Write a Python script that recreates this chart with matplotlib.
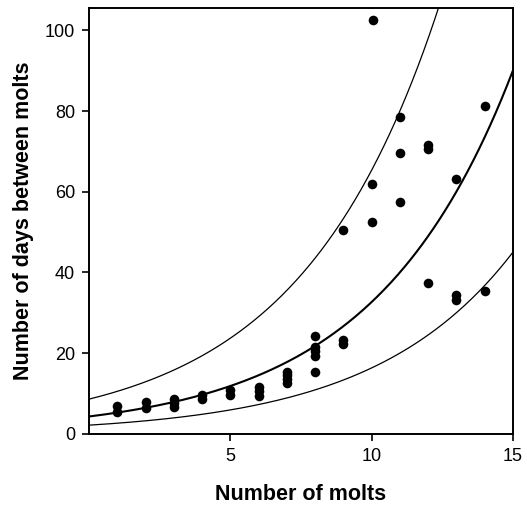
import matplotlib.pyplot as plt
import numpy as np

plt.rcParams['font.family'] = ['Liberation Sans', 'DejaVu Sans']

# Data #########################################################################
molt_number = [1, 1,
               2, 2,
               3, 3, 3,
               4, 4,
               5, 5,
               6, 6, 6,
               7, 7, 7, 7,
               8, 8, 8, 8, 8,
               9, 9, 9,
               10, 10, 10.05,
               11, 11, 11,
               12, 12, 12,
               13, 13, 13,
               14, 14]
days_between = [5.5, 6.8,
                6.5, 7.8,
                6.6, 7.6, 8.6,
                8.7, 9.6,
                9.5, 10.8,
                9.3, 10.5, 11.5,
                12.7, 13.7, 14.5, 15.3,
                15.2, 19.4, 20.5, 21.5, 24.3,
                22.3, 23.3, 50.5,
                52.5, 61.8, 102.5,
                57.5, 69.6, 78.6,
                37.5, 70.5, 71.5,
                33.2, 34.5, 63.2,
                35.3, 81.2]

# exponential fit and band (x2 / x0.5)
fit_a = 4.3
fit_b = 0.2027
band_factor = 2.0

x_ticks = [5, 10, 15]
y_ticks = [0, 20, 40, 60, 80, 100]

#Plot##########################################################################
fig = plt.figure(figsize=(5.27, 5.08), dpi=100)
ax = fig.add_axes([0.169, 0.146, 0.804, 0.838])

xs = np.linspace(0, 15, 300)
mid = fit_a * np.exp(fit_b * xs)
ax.plot(xs, mid, color="black", lw=1.5)
ax.plot(xs, mid * band_factor, color="black", lw=0.9)
ax.plot(xs, mid / band_factor, color="black", lw=0.9)

ax.scatter(molt_number, days_between, s=48, color="black", zorder=3, linewidths=0)

ax.set_xlim(0, 15)
ax.set_ylim(0, 105.5)
ax.set_xticks(x_ticks)
ax.set_yticks(y_ticks)
ax.tick_params(direction="out", length=5, width=1.2, labelsize=13, pad=5)
for s in ax.spines.values():
    s.set_linewidth(1.4)

ax.set_xlabel("Number of molts", fontsize=15.5, fontweight="bold", labelpad=14)
ax.set_ylabel("Number of days between molts", fontsize=15.5, fontweight="bold", labelpad=8)

plt.savefig("out.png", dpi=100)
